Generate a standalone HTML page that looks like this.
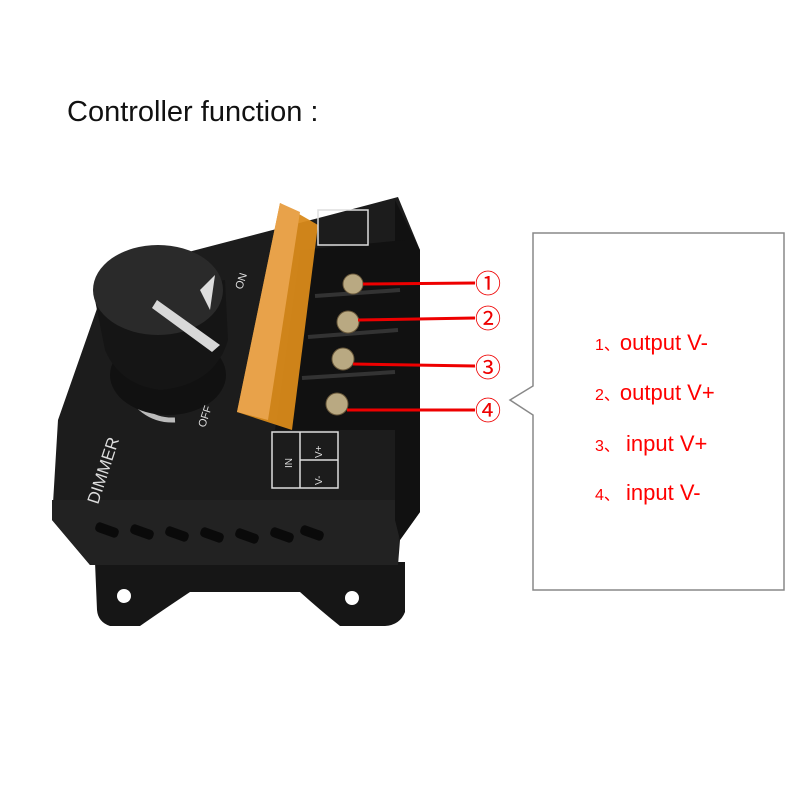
<!DOCTYPE html><html><head><meta charset="utf-8"><style>
body{margin:0;background:#fff;width:800px;height:800px;overflow:hidden}
svg{display:block}
</style></head><body>
<svg width="800" height="800" viewBox="0 0 800 800" xmlns="http://www.w3.org/2000/svg" font-family="Liberation Sans, Noto Sans CJK SC, sans-serif">
<text x="67" y="121" font-size="29" fill="#111">Controller function :</text>
<!-- bracket -->
<path d="M95,562 L405,562 L405,612 Q400,625 385,626 L340,626 Q320,610 300,592 L190,592 Q160,612 140,626 L110,626 Q98,622 97,610 Z" fill="#161616"/>
<circle cx="124" cy="596" r="7" fill="#fff"/><circle cx="352" cy="598" r="7" fill="#fff"/>
<!-- body -->
<polygon points="58,420 100,300 150,262 330,215 398,197 420,250 420,512 400,540 398,565 90,565 52,520" fill="#1c1c1c"/>
<polygon points="52,500 400,500 398,565 90,565 52,520" fill="#222"/>
<polygon points="395,200 420,250 420,512 400,540 395,520" fill="#111"/>
<g fill="#0a0a0a">
<rect x="95" y="525" width="24" height="10" rx="4" transform="rotate(20 107 530)"/>
<rect x="130" y="527" width="24" height="10" rx="4" transform="rotate(20 142 532)"/>
<rect x="165" y="529" width="24" height="10" rx="4" transform="rotate(20 177 534)"/>
<rect x="200" y="530" width="24" height="10" rx="4" transform="rotate(20 212 535)"/>
<rect x="235" y="531" width="24" height="10" rx="4" transform="rotate(20 247 536)"/>
<rect x="270" y="530" width="24" height="10" rx="4" transform="rotate(20 282 535)"/>
<rect x="300" y="528" width="24" height="10" rx="4" transform="rotate(20 312 533)"/>
</g>
<text x="0" y="0" font-size="17" fill="#ddd" transform="translate(98,505) rotate(-72)">DIMMER</text>
<!-- knob base -->
<path d="M128,385 A45,40 0 0 0 175,420" stroke="#bbb" stroke-width="5" fill="none"/>
<ellipse cx="168" cy="375" rx="58" ry="40" fill="#111"/>
<path d="M95,300 L105,350 Q120,385 160,390 Q215,385 228,340 L225,280 Z" fill="#151515"/>
<ellipse cx="158" cy="290" rx="65" ry="45" fill="#2a2a2a"/>
<polygon points="152,308 157,300 220,345 212,352" fill="#d8d8d8"/>
<polygon points="200,290 215,275 210,310" fill="#ddd"/>
<text font-size="11" fill="#ddd" transform="translate(205,428) rotate(-72)">OFF</text>
<text font-size="11" fill="#ddd" transform="translate(242,290) rotate(-72)">ON</text>
<!-- terminal block -->
<polygon points="300,250 405,240 405,430 275,430" fill="#111"/>
<g stroke="#333" stroke-width="4"><line x1="315" y1="296" x2="400" y2="290"/><line x1="308" y1="337" x2="398" y2="330"/><line x1="302" y1="378" x2="395" y2="372"/></g>
<g fill="#b9a982" stroke="#6b5a3c"><circle cx="353" cy="284" r="10"/><circle cx="348" cy="322" r="11"/><circle cx="343" cy="359" r="11"/><circle cx="337" cy="404" r="11"/></g>
<!-- fuse -->
<polygon points="280,203 318,225 292,430 237,412" fill="#d98a1a" opacity="0.95"/>
<polygon points="280,203 300,212 268,420 237,412" fill="#e8a24a"/>
<!-- labels -->
<g stroke="#ddd" stroke-width="1.5" fill="none"><rect x="272" y="432" width="66" height="56"/><line x1="300" y1="432" x2="300" y2="488"/><line x1="300" y1="460" x2="338" y2="460"/>
<rect x="318" y="210" width="50" height="35"/></g>
<text font-size="10" fill="#ddd" transform="translate(292,468) rotate(-90)">IN</text>
<text font-size="10" fill="#ddd" transform="translate(322,485) rotate(-90)">V-</text>
<text font-size="10" fill="#ddd" transform="translate(322,458) rotate(-90)">V+</text>
<!-- red lines -->
<g stroke="#e00" stroke-width="3"><line x1="363" y1="284" x2="475" y2="283"/><line x1="358" y1="320" x2="475" y2="318"/><line x1="353" y1="364" x2="475" y2="366"/><line x1="347" y1="410" x2="475" y2="410"/></g>
<g font-size="26" fill="#e00"><text x="475" y="293">①</text><text x="475" y="328">②</text><text x="475" y="377">③</text><text x="475" y="420">④</text></g>
<!-- callout -->
<path d="M533,386 L533,233 L784,233 L784,590 L533,590 L533,415 L510,400 Z" fill="#fff" stroke="#888" stroke-width="1.5"/>
<g fill="#f00"><text x="595" y="350"><tspan font-size="16">1、</tspan><tspan font-size="22">output  V-</tspan></text>
<text x="595" y="400"><tspan font-size="16">2、</tspan><tspan font-size="22">output  V+</tspan></text>
<text x="595" y="451"><tspan font-size="16">3、</tspan><tspan font-size="22"> input  V+</tspan></text>
<text x="595" y="500"><tspan font-size="16">4、</tspan><tspan font-size="22"> input  V-</tspan></text></g>
</svg></body></html>
